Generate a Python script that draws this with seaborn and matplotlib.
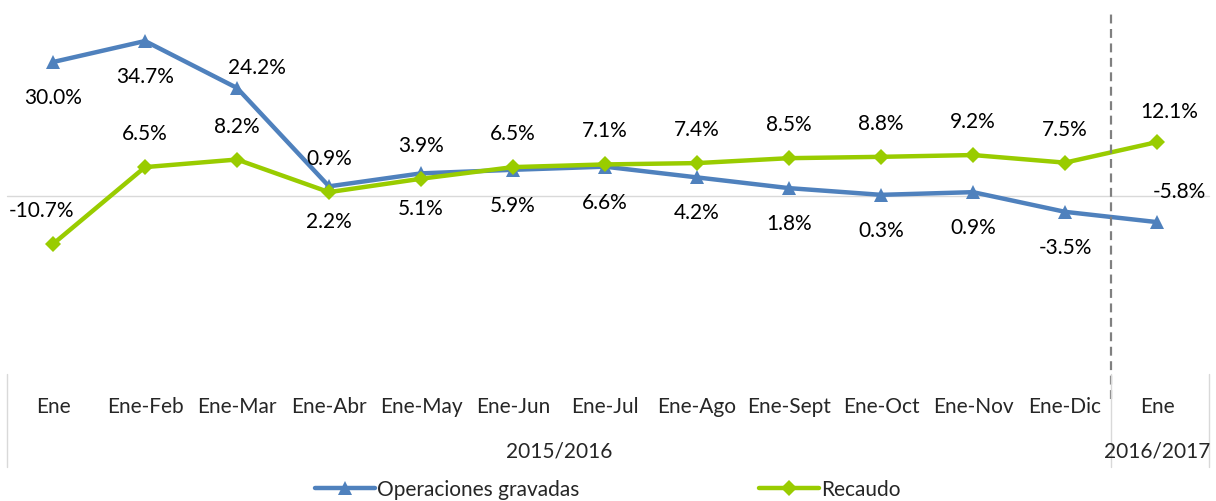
import matplotlib
matplotlib.use("Agg")
import matplotlib.pyplot as plt
import seaborn as sns
import pandas as pd
from matplotlib.transforms import blended_transform_factory

# data
categories = ["Ene", "Ene-Feb", "Ene-Mar", "Ene-Abr", "Ene-May", "Ene-Jun", "Ene-Jul",
              "Ene-Ago", "Ene-Sept", "Ene-Oct", "Ene-Nov", "Ene-Dic", "Ene"]
operaciones = [30.0, 34.7, 24.2, 2.2, 5.1, 5.9, 6.6, 4.2, 1.8, 0.3, 0.9, -3.5, -5.8]
recaudo = [-10.7, 6.5, 8.2, 0.9, 3.9, 6.5, 7.1, 7.4, 8.5, 8.8, 9.2, 7.5, 12.1]
groups = ["2015/2016", "2016/2017"]
group_sizes = [12, 1]

series_names = ["Operaciones gravadas", "Recaudo"]
colors = {"Operaciones gravadas": "#4F81BD", "Recaudo": "#99CC00"}
markers = {"Operaciones gravadas": "^", "Recaudo": "D"}

df = pd.DataFrame({
    "x": list(range(len(categories))) * 2,
    "valor": operaciones + recaudo,
    "serie": [series_names[0]] * len(operaciones) + [series_names[1]] * len(recaudo),
})

sns.set_style("white")
plt.rcParams["font.family"] = ["Lato", "DejaVu Sans"]
FS = 15

fig = plt.figure(figsize=(12.16, 5.02), dpi=100)
W, H = 1216, 502
ax = fig.add_axes([7 / W, 1 - 372 / H, 1196 / W, 372 / H])

sns.lineplot(data=df, x="x", y="valor", hue="serie", style="serie",
             palette=colors, markers=markers, dashes=False, sort=False,
             linewidth=3.2, markersize=10, markeredgewidth=0, ax=ax, legend=True)
# diamonds a bit smaller than triangles
for line in ax.lines:
    if line.get_marker() == "D":
        line.set_markersize(8)

ax.set_xlim(-0.5, len(categories) - 0.5)
ax.set_ylim(-39.1, 44.1)
ax.axhline(0, color="#D9D9D9", lw=1, zorder=0, xmin=0, xmax=1.005, clip_on=False)
for s in ax.spines.values():
    s.set_visible(False)
ax.set_yticks([])
ax.set_xlabel("")
ax.set_ylabel("")
ax.set_xticks(range(len(categories)))
ax.set_xticklabels(categories, fontsize=FS)
ax.tick_params(axis="x", length=0, pad=18)

# data labels (offsets in pixels)
blue_off = [(0, -35)] * len(operaciones)
blue_off[2] = (20, 21)
blue_off[-1] = (22, 31)
green_off = [(0, 34)] * len(recaudo)
green_off[0] = (-11, 34)
green_off[-1] = (12, 31)
for vals, offs in [(operaciones, blue_off), (recaudo, green_off)]:
    for i, (v, o) in enumerate(zip(vals, offs)):
        ax.annotate(f"{v:.1f}%", (i, v), xytext=o, textcoords="offset pixels",
                    ha="center", va="center", fontsize=FS, color="black")

# group separator and table lines
sep = group_sizes[0] - 0.5
ax.axvline(sep, ymin=-0.075, ymax=0.97, color="#808080", lw=1.6,
           linestyle=(0, (4, 2.5)), clip_on=False)
tb = -(468 - 372) / 372
for xv in [-0.5, sep, len(categories) - 0.43]:
    ax.axvline(xv, ymin=tb, ymax=-0.008, color="#D9D9D9", lw=1, clip_on=False)

trans = blended_transform_factory(ax.transData, fig.transFigure)
start = 0
for g, n in zip(groups, group_sizes):
    ax.text(start + (n - 1) / 2, 1 - 452 / H, g, transform=trans,
            ha="center", va="center", fontsize=FS)
    start += n

# legend at the bottom
handles, labels = ax.get_legend_handles_labels()
ax.get_legend().remove()
fig.legend(handles, labels, loc="center", bbox_to_anchor=(0.5, 12 / H), ncol=2,
           frameon=False, fontsize=FS, handlelength=2.9, columnspacing=8.6,
           handletextpad=0.1, borderaxespad=0)

fig.savefig("out.png", dpi=100)
